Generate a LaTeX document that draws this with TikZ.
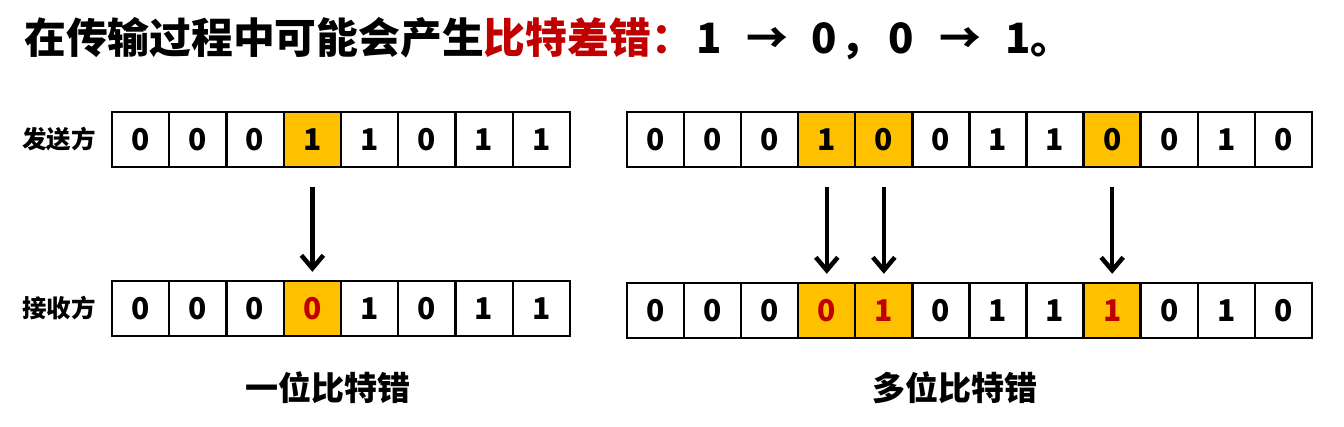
\documentclass[tikz,border=0pt]{standalone}
\usepackage{fontspec}
\setmainfont{Noto Sans CJK SC}
\usetikzlibrary{arrows.meta}
\definecolor{errfill}{HTML}{FFC000}
\definecolor{errred}{HTML}{C00000}
\newcommand\zc[1]{\makebox[0pt][c]{#1}}
\newcommand\zl[1]{\makebox[0pt][l]{#1}}
\tikzset{
  bitcell/.style={draw=black, line width=2.4pt, minimum width=57.2pt, minimum height=55pt,
    inner sep=0pt, font=\fontsize{30}{32}\selectfont\bfseries, fill=white},
  errcell/.style={bitcell, fill=errfill},
  flip/.style={line width=4.5pt, -{Straight Barb[length=13pt,width=22pt,line width=4.5pt]},
    shorten <=19pt, shorten >=8pt},
  sidelabel/.style={font=\fontsize{24.5}{26}\selectfont\bfseries},
  caption/.style={font=\fontsize{33}{35}\selectfont\bfseries},
}
\begin{document}
\begin{tikzpicture}[x=1pt,y=-1pt]
\useasboundingbox (0,0) rectangle (1344,427);
% title
\node[anchor=west, inner sep=0pt, font=\fontsize{41.8}{44}\selectfont\bfseries] (title) at (24,39)
  {在传输过程中可能会产生\textcolor{errred}{比特差错\zl{：}}\hspace{58pt}\zc{1}\hspace{58pt}\zc{→}\hspace{57pt}\zc{0}\hspace{16pt}\zl{，}\hspace{61pt}\zc{0}\hspace{59pt}\zc{→}\hspace{58pt}\zc{1}\hspace{12pt}\zl{。}};
% side labels
\node[sidelabel] (snd) at (59,139) {发送方};
\node[sidelabel] (rcv) at (59,308) {接收方};
% left example
\foreach \b [count=\i from 0] in {0,0,0,1,1,0,1,1} {
  \ifnum\i=3
    \node[errcell] (ls\i) at ({112+57.25*(\i+0.5)},139.5) {\b};
  \else
    \node[bitcell] (ls\i) at ({112+57.25*(\i+0.5)},139.5) {\b};
  \fi
}
\foreach \b [count=\i from 0] in {0,0,0,0,1,0,1,1} {
  \ifnum\i=3
    \node[errcell, text=errred] (lr\i) at ({112+57.25*(\i+0.5)},308.5) {\b};
  \else
    \node[bitcell] (lr\i) at ({112+57.25*(\i+0.5)},308.5) {\b};
  \fi
}
% right example
\foreach \b [count=\i from 0] in {0,0,0,1,0,0,1,1,0,0,1,0} {
  \pgfmathtruncatemacro{\hl}{(\i==3)||(\i==4)||(\i==8)}
  \ifnum\hl=1
    \node[errcell] (rs\i) at ({627+57.08*(\i+0.5)},139.5) {\b};
  \else
    \node[bitcell] (rs\i) at ({627+57.08*(\i+0.5)},139.5) {\b};
  \fi
}
\foreach \b [count=\i from 0] in {0,0,0,0,1,0,1,1,1,0,1,0} {
  \pgfmathtruncatemacro{\hl}{(\i==3)||(\i==4)||(\i==8)}
  \ifnum\hl=1
    \node[errcell, text=errred] (rr\i) at ({627+57.08*(\i+0.5)},310.5) {\b};
  \else
    \node[bitcell] (rr\i) at ({627+57.08*(\i+0.5)},310.5) {\b};
  \fi
}
% arrows
\draw[flip] (ls3.south) -- (lr3.north);
\draw[flip] (rs3.south) -- (rr3.north);
\draw[flip] (rs4.south) -- (rr4.north);
\draw[flip] (rs8.south) -- (rr8.north);
% captions
\node[caption] (cap1) at (328,388) {一位比特错};
\node[caption] (cap2) at (955,388) {多位比特错};
\end{tikzpicture}
\end{document}
